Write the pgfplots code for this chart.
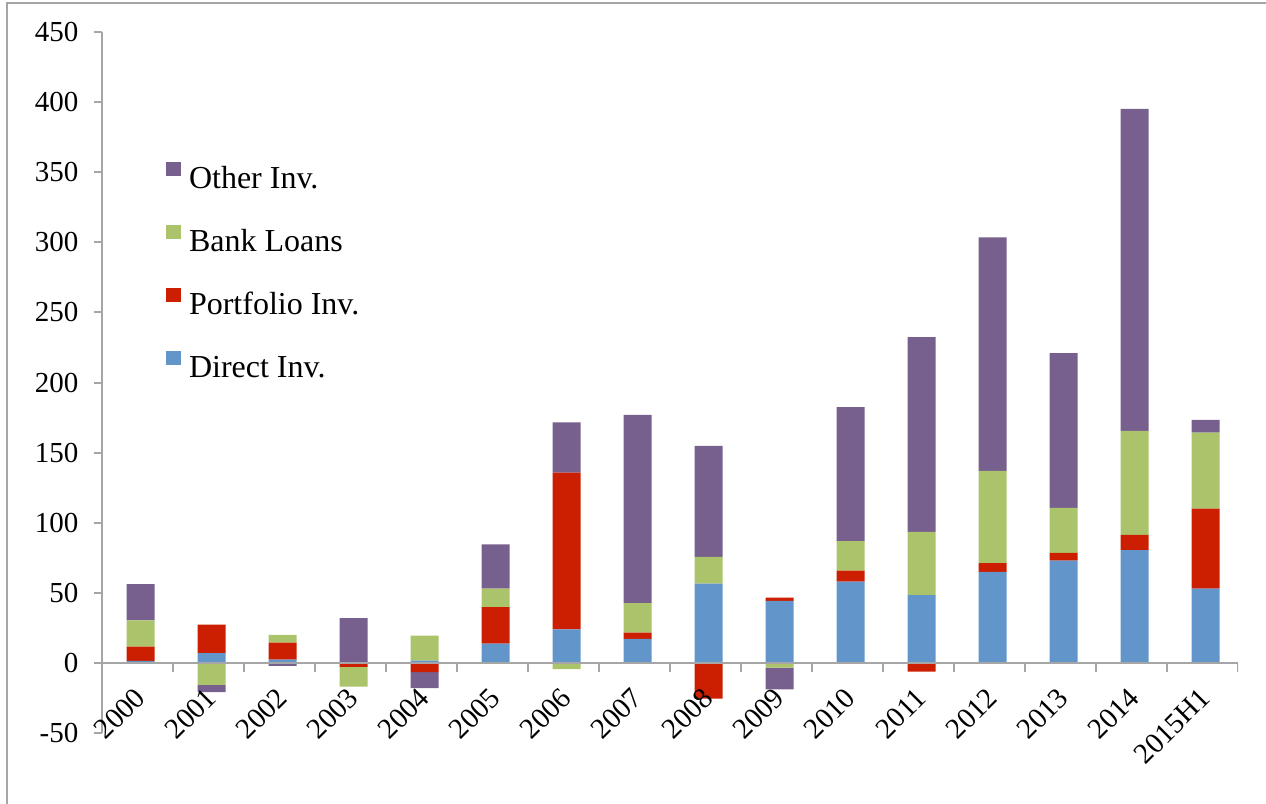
\documentclass[border=0pt]{standalone}
\usepackage{fontspec}
\setmainfont{Liberation Serif}
\usepackage{pgfplots}
\usepackage{pgfplotstable}
\pgfplotsset{compat=1.18}

\definecolor{directc}{HTML}{6296CA}
\definecolor{portc}{HTML}{CC1E00}
\definecolor{bankc}{HTML}{ABC46C}
\definecolor{otherc}{HTML}{77608D}
\definecolor{axisgray}{HTML}{A6A6A6}

% positive parts of each flow
\pgfplotstableread{
x  direct port  bank other
0  1.5    10.1  18.8 25.7
1  6.9    20.4  0    0
2  2.4    12.1  5.5  0
3  0      0     0    31.9
4  1.7    0     17.8 0
5  13.8   25.9  13.3 31.6
6  24.0   111.7 0    35.9
7  17.1   4.5   21.0 134.3
8  56.6   0     19.0 79.2
9  44.2   2.4   0    0
10 58.0   7.8   21.0 95.6
11 48.3   0     45.1 138.9
12 64.9   6.2   65.8 166.7
13 73.0   5.4   32.1 110.4
14 80.4   10.9  74.2 229.6
15 53.0   57.0  54.2 9.1
}\pos

% negative parts, stacked downward from zero
\pgfplotstableread{
x  direct port  bank  other
0  0      0     0     0
1  0      0     -15.7 -5.2
2  0      0     0     -2.1
3  0      -2.9  -14.0 0
4  0      -6.6  0     -11.4
5  0      0     0     0
6  0      0     -4.5  0
7  0      0     0     0
8  0      -25.4 0     0
9  0      0     -3.3  -15.5
10 0      0     0     0
11 0      -6.2  0     0
12 0      0     0     0
13 0      0     0     0
14 0      0     0     0
15 0      0     0     0
}\neg

\pgfplotsset{
  common/.style={
    scale only axis, width=568pt, height=350.5pt,
    at={(51pt,35.5pt)}, anchor=south west,
    xmin=-0.5, xmax=15.5, ymin=-50, ymax=450,
    ybar stacked, bar width=14pt, bar shift=1.5pt,
  },
}

\begin{document}
\fontsize{14.5}{17}\selectfont
\begin{tikzpicture}
\draw[axisgray, line width=0.8pt] (3.5pt,0) -- (3.5pt,400.5pt) -- (633pt,400.5pt);

\begin{axis}[common, hide axis]
  \addplot[fill=directc, draw=none] table[x=x, y=direct] {\neg};
  \addplot[fill=portc, draw=none] table[x=x, y=port] {\neg};
  \addplot[fill=bankc, draw=none] table[x=x, y=bank] {\neg};
  \addplot[fill=otherc, draw=none] table[x=x, y=other] {\neg};
\end{axis}

\begin{axis}[common,
  axis on top,
  axis y line*=left, axis x line*=middle,
  axis line style={axisgray, line width=1pt},
  tick align=outside,
  major tick length=3.8pt,
  tick style={axisgray, line width=1pt},
  ytick={-50,0,...,450},
  xtick={0,...,15},
  xtick style={draw=none},
  xticklabels={2000,2001,2002,2003,2004,2005,2006,2007,2008,2009,2010,2011,2012,2013,2014,2015H1},
  xticklabel style={rotate=45, anchor=north east, xshift=-2pt, yshift=1pt},
  yticklabel style={xshift=-3pt},
  /pgf/number format/assume math mode=true,
  reverse legend,
  legend style={draw=none, fill=none, at={(axis description cs:0.056,0.815)},
    anchor=north west, row sep=14.5pt, inner sep=0pt,
    font=\fontsize{16}{19}\selectfont,
    nodes={inner sep=1pt, text height=12pt, text depth=3pt},
    /tikz/every odd column/.append style={column sep=3pt}},
  legend cell align=left,
  legend image code/.code={\fill[#1] (0pt,1.5pt) rectangle (7.5pt,8.5pt);},
]
  \addplot[fill=directc, draw=none] table[x=x, y=direct] {\pos};
  \addlegendentry{Direct Inv.}
  \addplot[fill=portc, draw=none] table[x=x, y=port] {\pos};
  \addlegendentry{Portfolio Inv.}
  \addplot[fill=bankc, draw=none] table[x=x, y=bank] {\pos};
  \addlegendentry{Bank Loans}
  \addplot[fill=otherc, draw=none] table[x=x, y=other] {\pos};
  \addlegendentry{Other Inv.}
  % category separators on the zero line
  \pgfplotsinvokeforeach{-0.5,0.5,...,15.5}{
    \draw[axisgray, line width=1pt] (axis cs:#1,0) -- ([yshift=-4.5pt]axis cs:#1,0);
  }
\end{axis}

\pgfresetboundingbox
\useasboundingbox (0,0) rectangle (633pt,402pt);
\end{tikzpicture}
\end{document}
